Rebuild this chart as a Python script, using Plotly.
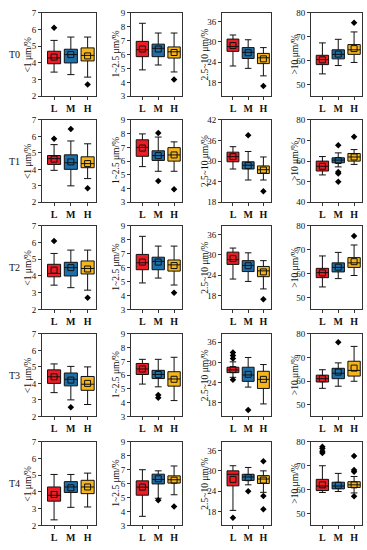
import plotly.graph_objects as go

cats = ["L", "M", "H"]
row_labels = ["T0", "T1", "T2", "T3", "T4"]
ytitles = ["<1 μm/%", "1~2.5 μm/%", "2.5~10 μm/%", ">10 μm/%"]
colors = ["#ee1c25", "#1f6fa8", "#f6b51b"]

# each: 4 columns (size classes) x 3 categories (L, M, H)
T0_lo = [[3.45, 3.3, 3.15], [4.9, 5.25, 4.75], [22.9, 22.2, 20.0], [54.4, 57.9, 59.2]]
T0_q1 = [[3.95, 4.0, 4.12], [5.85, 5.85, 5.75], [27.2, 25.1, 23.6], [58.3, 60.7, 62.6]]
T0_med = [[4.3, 4.5, 4.45], [6.35, 6.45, 6.2], [28.6, 26.9, 25.3], [60.4, 62.6, 64.5]]
T0_q3 = [[4.7, 4.82, 4.9], [6.95, 6.75, 6.55], [30.8, 28.3, 26.6], [62.2, 64.5, 66.7]]
T0_hi = [[5.35, 5.55, 5.55], [8.25, 7.55, 7.55], [32.0, 30.6, 28.3], [67.4, 68.9, 72.0]]
T0_mean = [[4.35, 4.5, 4.42], [6.4, 6.4, 6.15], [28.9, 26.8, 25.0], [60.3, 62.7, 65.0]]
T0_out = [[[6.1], [], [2.7]], [[], [], [4.2]], [[], [], [17.0]], [[], [], [75.8]]]

T1_lo = [[3.94, 3.0, 3.44], [5.6, 5.26, 5.26], [27.7, 24.5, 24.5], [53.3, 57.2, 58.4]]
T1_q1 = [[4.3, 4.0, 4.1], [6.35, 6.05, 6.0], [29.8, 27.7, 26.4], [55.2, 59.2, 60.0]]
T1_med = [[4.65, 4.4, 4.35], [7.0, 6.4, 6.45], [31.3, 28.8, 27.5], [57.5, 60.5, 62.0]]
T1_q3 = [[4.84, 4.88, 4.76], [7.55, 6.75, 6.98], [32.6, 29.8, 28.6], [60.0, 61.6, 63.7]]
T1_hi = [[5.5, 5.72, 5.55], [7.98, 7.75, 7.4], [34.2, 32.8, 31.2], [62.2, 64.0, 65.6]]
T1_mean = [[4.62, 4.45, 4.35], [6.95, 6.4, 6.45], [31.3, 28.7, 27.4], [57.5, 60.3, 62.0]]
T1_out = [[[5.85], [6.45], [2.85]], [[], [8.05, 4.55], [3.95]], [[], [37.5], [21.2]],
          [[], [67.7, 54.7, 54.0, 50.0], [71.8]]]

T2_lo = [[3.45, 3.3, 3.15], [4.9, 5.25, 4.75], [22.9, 22.2, 20.0], [54.4, 57.9, 59.2]]
T2_q1 = [[3.95, 4.0, 4.12], [5.85, 5.85, 5.75], [27.2, 25.1, 23.6], [58.3, 60.7, 62.6]]
T2_med = [[4.15, 4.5, 4.45], [6.35, 6.45, 6.2], [28.6, 26.9, 25.3], [60.4, 62.6, 64.5]]
T2_q3 = [[4.7, 4.82, 4.9], [6.95, 6.75, 6.55], [30.8, 28.3, 26.6], [62.2, 64.5, 66.7]]
T2_hi = [[5.35, 5.55, 5.55], [8.25, 7.55, 7.55], [32.0, 30.6, 28.3], [67.4, 68.9, 72.0]]
T2_mean = [[4.35, 4.5, 4.42], [6.4, 6.4, 6.15], [28.9, 26.8, 25.0], [60.3, 62.7, 65.0]]
T2_out = [[[6.1], [], [2.7]], [[], [], [4.2]], [[], [], [17.0]], [[], [], [75.8]]]

T3_lo = [[3.44, 3.0, 2.72], [5.35, 5.15, 4.15], [25.6, 22.7, 17.7], [56.9, 57.8, 59.9]]
T3_q1 = [[4.0, 3.85, 3.58], [6.05, 5.75, 5.2], [27.0, 24.4, 22.3], [59.6, 61.0, 62.1]]
T3_med = [[4.4, 4.25, 3.95], [6.45, 6.05, 5.72], [27.8, 26.3, 25.0], [61.0, 63.3, 64.5]]
T3_q3 = [[4.82, 4.63, 4.42], [6.85, 6.35, 6.25], [28.6, 28.6, 27.4], [62.5, 65.4, 68.4]]
T3_hi = [[5.18, 5.03, 5.0], [7.15, 7.15, 7.3], [30.2, 31.5, 29.4], [64.8, 67.7, 74.7]]
T3_mean = [[4.4, 4.2, 4.0], [6.45, 6.05, 5.7], [27.9, 26.5, 25.0], [61.0, 63.8, 65.5]]
T3_out = [[[], [2.55], []], [[], [4.55, 4.35], []], [[33.0, 32.1, 31.2, 24.9], [15.9], []],
          [[], [76.5], []]]

T4_lo = [[2.33, 3.08, 3.1], [3.65, 4.95, 5.2], [18.4, 25.9, 23.7], [58.8, 59.2, 58.6]]
T4_q1 = [[3.45, 3.97, 3.9], [5.17, 5.98, 6.04], [25.6, 27.2, 26.3], [59.6, 60.3, 60.9]]
T4_med = [[3.8, 4.3, 4.3], [5.75, 6.3, 6.28], [29.0, 28.2, 27.6], [61.5, 61.5, 62.0]]
T4_q3 = [[4.3, 4.62, 4.7], [6.2, 6.68, 6.56], [30.0, 29.0, 28.6], [64.3, 63.1, 63.3]]
T4_hi = [[5.05, 5.05, 5.13], [7.0, 6.92, 7.27], [31.5, 31.0, 30.0], [70.0, 66.8, 65.5]]
T4_mean = [[3.85, 4.25, 4.3], [5.75, 6.35, 6.25], [27.5, 28.0, 27.3], [62.0, 61.8, 62.0]]
T4_out = [[[], [], []], [[], [4.8], [4.35]], [[16.2], [24.0], [32.8, 22.6, 18.7]],
          [[78.0, 77.2, 76.1, 75.4], [], [74.1, 68.2, 67.5, 57.2]]]

stats = [
    (T0_lo, T0_q1, T0_med, T0_q3, T0_hi, T0_mean, T0_out),
    (T1_lo, T1_q1, T1_med, T1_q3, T1_hi, T1_mean, T1_out),
    (T2_lo, T2_q1, T2_med, T2_q3, T2_hi, T2_mean, T2_out),
    (T3_lo, T3_q1, T3_med, T3_q3, T3_hi, T3_mean, T3_out),
    (T4_lo, T4_q1, T4_med, T4_q3, T4_hi, T4_mean, T4_out),
]

W, H = 367, 550
col_px = [(42, 96), (131, 182), (222, 271), (311, 362)]
row_px = [(8, 93), (117, 201), (225, 310), (335, 419), (445, 530)]
ytitle_px = [28, 116, 205, 295]

FONT = "Liberation Serif, Times New Roman, serif"

fig = go.Figure()
layout = {}
annotations = []

for r in range(5):
    lo, q1, med, q3, hi, mean, out = stats[r]
    for c in range(4):
        idx = r * 4 + c + 1
        xs = "x" if idx == 1 else f"x{idx}"
        ys = "y" if idx == 1 else f"y{idx}"
        for k in range(3):
            fig.add_trace(go.Box(
                x=[k], q1=[q1[c][k]], median=[med[c][k]], q3=[q3[c][k]],
                lowerfence=[lo[c][k]], upperfence=[hi[c][k]],
                fillcolor=colors[k], line=dict(color="#111111", width=1),
                width=0.78, whiskerwidth=0.55, boxpoints=False,
                xaxis=xs, yaxis=ys, showlegend=False, hoverinfo="skip"))
        fig.add_trace(go.Scatter(
            x=[0, 1, 2], y=mean[c], mode="markers",
            marker=dict(symbol="square-open", size=6, color="#111111", line=dict(width=1)),
            xaxis=xs, yaxis=ys, showlegend=False, hoverinfo="skip"))
        ox, oy = [], []
        for k in range(3):
            for v in out[c][k]:
                ox.append(k)
                oy.append(v)
        if ox:
            fig.add_trace(go.Scatter(
                x=ox, y=oy, mode="markers",
                marker=dict(symbol="diamond", size=5, color="#000000"),
                xaxis=xs, yaxis=ys, showlegend=False, hoverinfo="skip"))

        x0, x1 = col_px[c]
        y0, y1 = row_px[r]
        xk = "xaxis" if idx == 1 else f"xaxis{idx}"
        yk = "yaxis" if idx == 1 else f"yaxis{idx}"
        layout[xk] = dict(
            domain=[x0 / W, x1 / W], anchor=ys, range=[-0.72, 2.5],
            tickvals=[0, 1, 2], ticktext=[f"<b>{t}</b>" for t in cats],
            ticks="outside", ticklen=3, tickcolor="#333", showline=True, mirror=True,
            linecolor="#333", linewidth=1, showgrid=False, zeroline=False,
            tickfont=dict(family=FONT, size=10, color="#111"))
        if c == 0:
            yr, dt = [2, 7], 1
        elif c == 1:
            yr, dt = [3, 9], 1
        elif c == 2:
            yr, dt = ([18, 42], 6) if r == 1 else ([14, 38.5], 6)
        else:
            yr, dt = ([40, 80], 10) if r == 1 else ([45, 80], 10)
        layout[yk] = dict(
            domain=[1 - y1 / H, 1 - y0 / H], anchor=xs, range=yr, dtick=dt, tick0=0,
            ticks="outside", ticklen=3, tickcolor="#333", showline=True, mirror=True,
            linecolor="#333", linewidth=1, showgrid=False, zeroline=False,
            tickfont=dict(family=FONT, size=9, color="#111"))
        annotations.append(dict(
            text=ytitles[c], xref="paper", yref="paper",
            x=ytitle_px[c] / W, y=1 - (y0 + y1) / 2 / H, textangle=-90,
            showarrow=False, xanchor="center", yanchor="middle",
            font=dict(family=FONT, size=9.5, color="#111")))
    annotations.append(dict(
        text=row_labels[r], xref="paper", yref="paper",
        x=14 / W, y=1 - (row_px[r][0] + row_px[r][1]) / 2 / H,
        showarrow=False, xanchor="center", yanchor="middle",
        font=dict(family=FONT, size=10, color="#111")))

fig.update_layout(
    width=W, height=H, margin=dict(l=0, r=0, t=0, b=0),
    paper_bgcolor="white", plot_bgcolor="white",
    annotations=annotations, **layout)

fig.write_html("out.html", config={"displayModeBar": False},
               post_script="document.body.style.margin='0';document.body.style.overflow='hidden';")
